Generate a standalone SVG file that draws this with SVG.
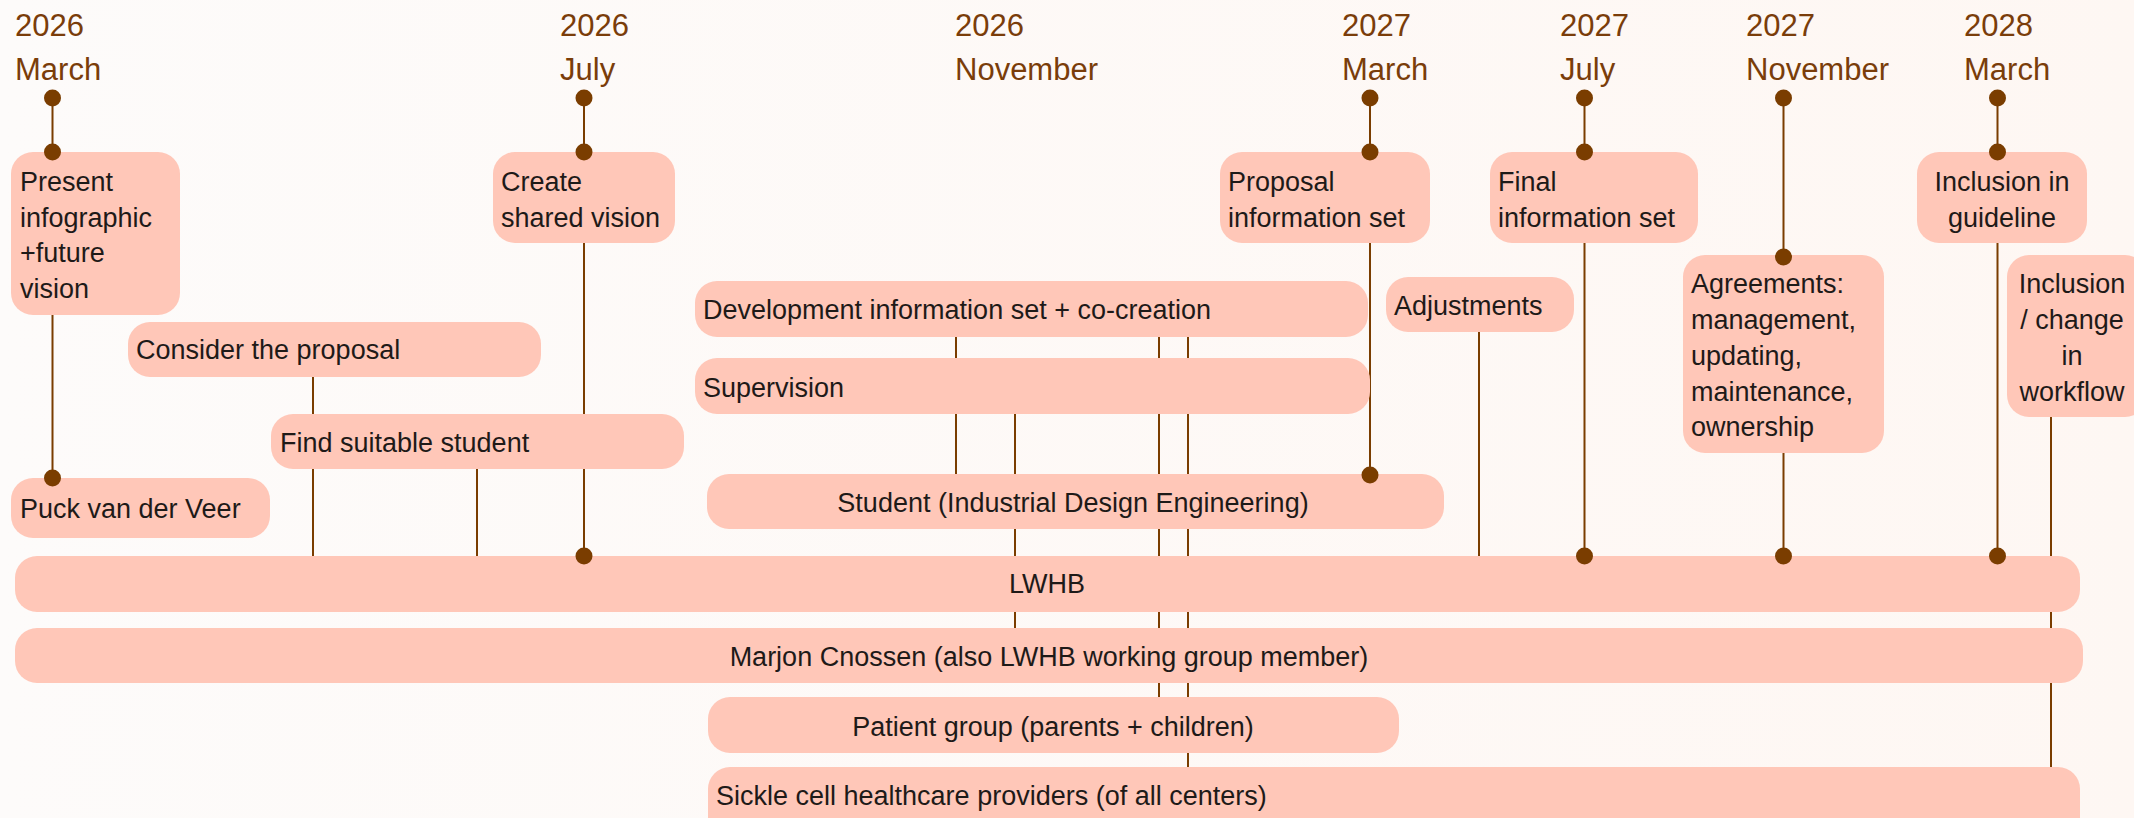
<svg xmlns="http://www.w3.org/2000/svg" width="2134" height="818" viewBox="0 0 2134 818">
  <defs>
    <style>
      .box { fill: #ffc7b8; }
      .t { font-family: "Liberation Sans", Arial, sans-serif; font-size: 27px; fill: #1e1a18; }
      .c { text-anchor: middle; }
      .date { font-family: "Liberation Sans", Arial, sans-serif; font-size: 31px; fill: #7a3d0a; }
      .ln { stroke: #7a3d00; stroke-width: 2; fill: none; }
      .dot { fill: #7a3d00; }
    </style>
    <linearGradient id="bg" x1="0" y1="0" x2="1" y2="0">
      <stop offset="0" stop-color="#fdfbfa"/>
      <stop offset="1" stop-color="#fef7f3"/>
    </linearGradient>
  </defs>

  <rect width="2134" height="818" fill="url(#bg)"/>

  <!-- month / year headings -->
  <g id="dates">
    <text class="date" x="15" y="36">2026</text><text class="date" x="15" y="80">March</text>
    <text class="date" x="560" y="36">2026</text><text class="date" x="560" y="80">July</text>
    <text class="date" x="955" y="36">2026</text><text class="date" x="955" y="80">November</text>
    <text class="date" x="1342" y="36">2027</text><text class="date" x="1342" y="80">March</text>
    <text class="date" x="1560" y="36">2027</text><text class="date" x="1560" y="80">July</text>
    <text class="date" x="1746" y="36">2027</text><text class="date" x="1746" y="80">November</text>
    <text class="date" x="1964" y="36">2028</text><text class="date" x="1964" y="80">March</text>
  </g>

  <!-- vertical connector lines, drawn behind the boxes -->
  <g id="connectors">
    <line class="ln" x1="52.5" y1="98" x2="52.5" y2="478"/>
    <line class="ln" x1="584" y1="98" x2="584" y2="556"/>
    <line class="ln" x1="1370" y1="98" x2="1370" y2="474"/>
    <line class="ln" x1="1584.5" y1="98" x2="1584.5" y2="556"/>
    <line class="ln" x1="1783.5" y1="98" x2="1783.5" y2="556"/>
    <line class="ln" x1="1997.5" y1="98" x2="1997.5" y2="556"/>
    <line class="ln" x1="313" y1="377" x2="313" y2="556"/>
    <line class="ln" x1="477" y1="469" x2="477" y2="556"/>
    <line class="ln" x1="956" y1="337" x2="956" y2="474"/>
    <line class="ln" x1="1015" y1="414" x2="1015" y2="628"/>
    <line class="ln" x1="1159" y1="337" x2="1159" y2="697"/>
    <line class="ln" x1="1188" y1="337" x2="1188" y2="767"/>
    <line class="ln" x1="1479" y1="332" x2="1479" y2="556"/>
    <line class="ln" x1="2051" y1="417" x2="2051" y2="767"/>
  </g>

  <g id="present-infographic">
    <rect class="box" x="11" y="152" width="169" height="163" rx="22"/>
    <text class="t" x="20" y="191">Present<tspan x="20" y="227">infographic</tspan><tspan x="20" y="262">+future</tspan><tspan x="20" y="298">vision</tspan></text>
  </g>
  <g id="create-shared-vision">
    <rect class="box" x="493" y="152" width="182" height="91" rx="22"/>
    <text class="t" x="501" y="191">Create<tspan x="501" y="227">shared vision</tspan></text>
  </g>
  <g id="proposal-information-set">
    <rect class="box" x="1220" y="152" width="210" height="91" rx="22"/>
    <text class="t" x="1228" y="191">Proposal<tspan x="1228" y="227">information set</tspan></text>
  </g>
  <g id="final-information-set">
    <rect class="box" x="1490" y="152" width="208" height="91" rx="22"/>
    <text class="t" x="1498" y="191">Final<tspan x="1498" y="227">information set</tspan></text>
  </g>
  <g id="inclusion-guideline">
    <rect class="box" x="1917" y="152" width="170" height="91" rx="22"/>
    <text class="t c" x="2002" y="191">Inclusion in<tspan x="2002" y="227">guideline</tspan></text>
  </g>
  <g id="consider-proposal">
    <rect class="box" x="128" y="322" width="413" height="55" rx="22"/>
    <text class="t" x="136" y="359">Consider the proposal</text>
  </g>
  <g id="find-student">
    <rect class="box" x="271" y="414" width="413" height="55" rx="22"/>
    <text class="t" x="280" y="452">Find suitable student</text>
  </g>
  <g id="puck-van-der-veer">
    <rect class="box" x="11" y="478" width="259" height="60" rx="22"/>
    <text class="t" x="20" y="518">Puck van der Veer</text>
  </g>
  <g id="development">
    <rect class="box" x="695" y="281" width="673" height="56" rx="22"/>
    <text class="t" x="703" y="319">Development information set + co-creation</text>
  </g>
  <g id="supervision">
    <rect class="box" x="695" y="358" width="675" height="56" rx="22"/>
    <text class="t" x="703" y="397">Supervision</text>
  </g>
  <g id="student">
    <rect class="box" x="707" y="474" width="737" height="55" rx="22"/>
    <text class="t c" x="1073" y="512">Student (Industrial Design Engineering)</text>
  </g>
  <g id="adjustments">
    <rect class="box" x="1386" y="277" width="188" height="55" rx="22"/>
    <text class="t" x="1394" y="315">Adjustments</text>
  </g>
  <g id="agreements">
    <rect class="box" x="1683" y="255" width="201" height="198" rx="22"/>
    <text class="t" x="1691" y="293">Agreements:<tspan x="1691" y="329">management,</tspan><tspan x="1691" y="365">updating,</tspan><tspan x="1691" y="401">maintenance,</tspan><tspan x="1691" y="436">ownership</tspan></text>
  </g>
  <g id="inclusion-workflow">
    <rect class="box" x="2007" y="255" width="140" height="162" rx="22"/>
    <text class="t c" x="2072" y="293">Inclusion<tspan x="2072" y="329">/ change</tspan><tspan x="2072" y="365">in</tspan><tspan x="2072" y="401">workflow</tspan></text>
  </g>
  <g id="lwhb">
    <rect class="box" x="15" y="556" width="2065" height="56" rx="22"/>
    <text class="t c" x="1047" y="593">LWHB</text>
  </g>
  <g id="marjon-cnossen">
    <rect class="box" x="15" y="628" width="2068" height="55" rx="22"/>
    <text class="t c" x="1049" y="666">Marjon Cnossen (also LWHB working group member)</text>
  </g>
  <g id="patient-group">
    <rect class="box" x="708" y="697" width="691" height="56" rx="22"/>
    <text class="t c" x="1053" y="736">Patient group (parents + children)</text>
  </g>
  <g id="healthcare-providers">
    <rect class="box" x="708" y="767" width="1372" height="80" rx="22"/>
    <text class="t" x="716" y="805">Sickle cell healthcare providers (of all centers)</text>
  </g>

  <!-- connector end points, on top of the boxes -->
  <g id="connector-dots">
    <circle class="dot" cx="52.5" cy="98" r="8.5"/><circle class="dot" cx="52.5" cy="152" r="8.5"/><circle class="dot" cx="52.5" cy="478" r="8.5"/>
    <circle class="dot" cx="584" cy="98" r="8.5"/><circle class="dot" cx="584" cy="152" r="8.5"/><circle class="dot" cx="584" cy="556" r="8.5"/>
    <circle class="dot" cx="1370" cy="98" r="8.5"/><circle class="dot" cx="1370" cy="152" r="8.5"/><circle class="dot" cx="1370" cy="475" r="8.5"/>
    <circle class="dot" cx="1584.5" cy="98" r="8.5"/><circle class="dot" cx="1584.5" cy="152" r="8.5"/><circle class="dot" cx="1584.5" cy="556" r="8.5"/>
    <circle class="dot" cx="1783.5" cy="98" r="8.5"/><circle class="dot" cx="1783.5" cy="257" r="8.5"/><circle class="dot" cx="1783.5" cy="556" r="8.5"/>
    <circle class="dot" cx="1997.5" cy="98" r="8.5"/><circle class="dot" cx="1997.5" cy="152" r="8.5"/><circle class="dot" cx="1997.5" cy="556" r="8.5"/>
  </g>
</svg>
